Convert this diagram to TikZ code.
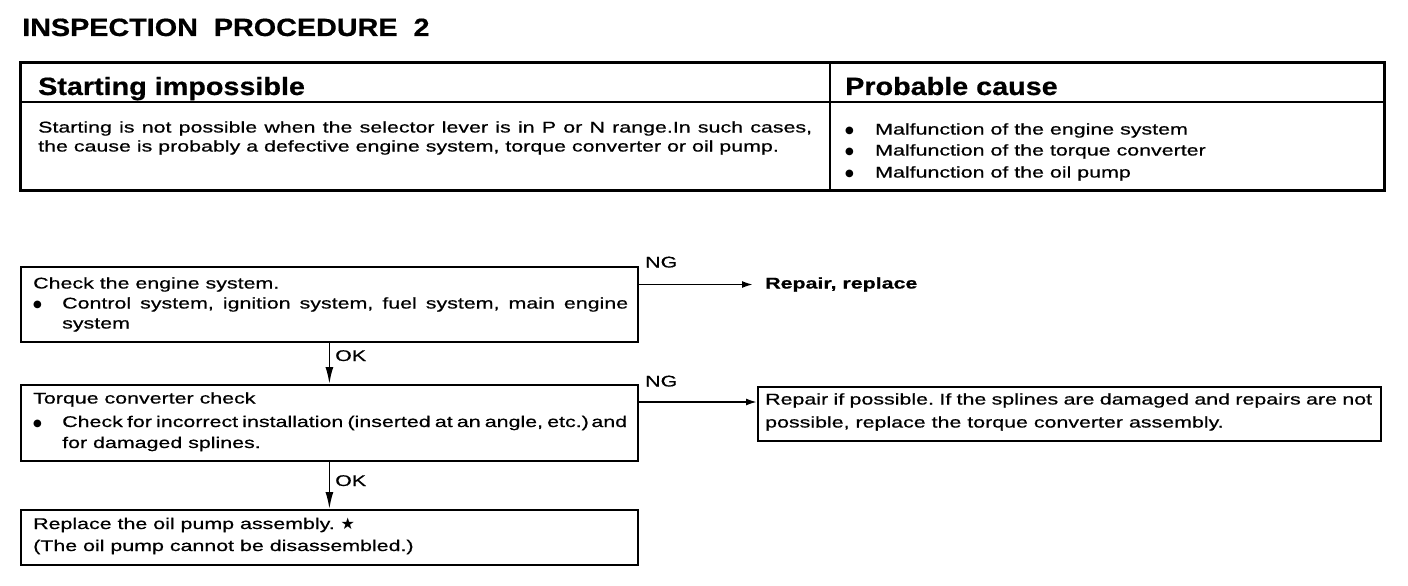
\documentclass[tikz,border=0pt]{standalone}
\usepackage{fontspec}
\setmainfont{Liberation Sans}[FakeStretch=1.38,FakeBold=0.6]
\newfontfamily\hdfont{Liberation Sans}[FakeStretch=1.15,FakeBold=0.6]
\newfontfamily\symfont{DejaVu Sans}
\usetikzlibrary{arrows.meta,calc}
\frenchspacing
\begin{document}
\begin{tikzpicture}[x=1pt,y=-1pt,
  txt/.style={anchor=base west,inner sep=0pt,font=\fontsize{15.5}{18}\selectfont},
  hd/.style={anchor=base west,inner sep=0pt,font=\hdfont\bfseries\fontsize{25}{28}\selectfont},
  box/.style={draw,line width=1.8pt,anchor=north west,inner sep=0pt,minimum width=617pt},
  ngarrow/.style={line width=1.8pt,-{Latex[length=11pt,width=7pt]}},
  okarrow/.style={line width=1.8pt,-{Latex[length=17pt,width=8pt]}},
]
\newcommand{\bul}{{\symfont\fontsize{10}{12}\selectfont ●}}
\useasboundingbox (0,0) rectangle (1408,586);
% title
\node[hd] (title) at (22,36) {INSPECTION\ \ PROCEDURE\ \ 2};
% table
\draw[line width=3pt] (20,63) rectangle (1384,190);
\draw[line width=1.8pt] (20,102) -- (1384,102);
\draw[line width=1.8pt] (830,63) -- (830,190);
\node[hd] (h1) at (38,95) {Starting impossible};
\node[hd] (h2) at (845,95) {Probable cause};
\node[txt] (t1) at (38,132.5) {\makebox[774pt][s]{Starting is not possible when the selector lever is in P or N range.In such cases,}};
\node[txt] (t2) at (38,151.5) {the cause is probably a defective engine system, torque converter or oil pump.};
\node[txt] (c1b) at (845,133.5) {\bul};
\node[txt] (c1) at (875,134.5) {Malfunction of the engine system};
\node[txt] (c2b) at (845,154.5) {\bul};
\node[txt] (c2) at (875,155.5) {Malfunction of the torque converter};
\node[txt] (c3b) at (845,176.5) {\bul};
\node[txt] (c3) at (875,177.5) {Malfunction of the oil pump};
% flow boxes
\node[box,minimum height=75pt] (b1) at (20,266) {};
\node[txt] (b1l1) at (33,288.5) {Check the engine system.};
\node[txt] (b1bb) at (33,307.5) {\bul};
\node[txt] (b1l2) at (62,308.5) {\makebox[566pt][s]{Control system, ignition system, fuel system, main engine}};
\node[txt] (b1l3) at (62,328.5) {system};
\node[box,minimum height=76pt] (b2) at (20,384) {};
\node[txt] (b2l1) at (33,403.5) {Torque converter check};
\node[txt] (b2bb) at (33,426) {\bul};
\node[txt] (b2l2) at (62,427) {\makebox[565pt][s]{Check for incorrect installation (inserted at an angle, etc.)\,and}};
\node[txt] (b2l3) at (62,448) {for damaged splines.};
\node[box,minimum width=623pt,minimum height=54pt] (b3) at (757,386) {};
\node[txt] (b3l1) at (765,404.5) {\makebox[607pt][s]{Repair if possible. If the splines are damaged and repairs are not}};
\node[txt] (b3l2) at (765,427.5) {possible, replace the torque converter assembly.};
\node[box,minimum height=55pt] (b4) at (20,509) {};
\node[txt] (b4l1) at (33,529) {Replace the oil pump assembly. {\symfont\fontsize{16}{18}\selectfont ★}};
\node[txt] (b4l2) at (33,551) {(The oil pump cannot be disassembled.)};
\node[txt,font=\bfseries\fontsize{15.5}{18}\selectfont] (rr) at (765,288.5) {Repair, replace};
% labels
\node[txt] (ng1) at (645,267.5) {NG};
\node[txt] (ng2) at (645,386.5) {NG};
\node[txt] (ok1) at (335,361) {OK};
\node[txt] (ok2) at (335,486) {OK};
% connectors
\coordinate (n2) at (700,402);
\draw[okarrow] (b1.south) -- (b2.north);
\draw[okarrow] (b2.south) -- (b4.north);
\draw[ngarrow,shorten >=12pt] (rr.west -| b1.east) -- (rr.west);
\draw[ngarrow] (b2.east |- n2) -- (b3.west |- n2);
\end{tikzpicture}
\end{document}
